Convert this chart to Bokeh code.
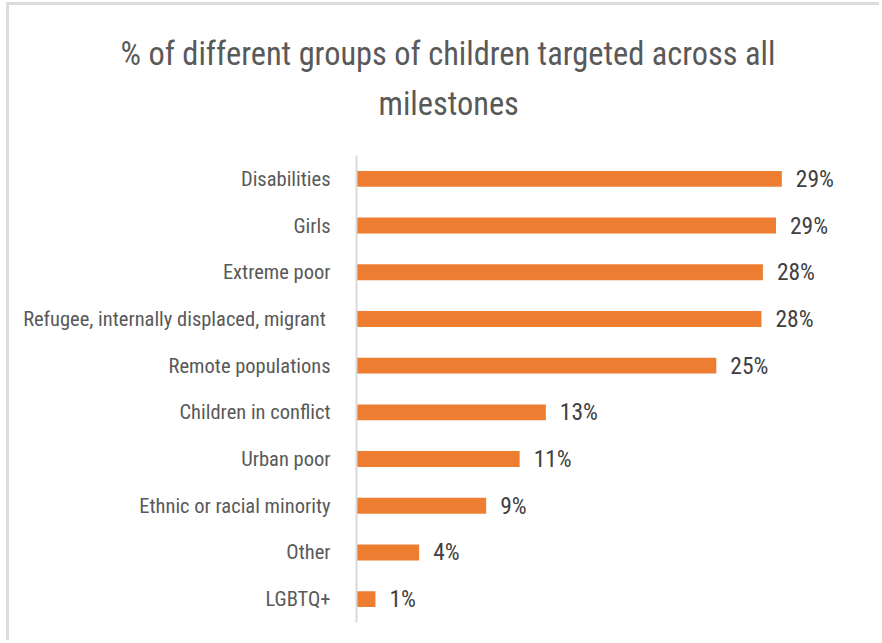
from bokeh.plotting import figure
from bokeh.models import FactorRange, Title, ColumnDataSource
from bokeh.core.properties import value
from bokeh.embed import file_html
from bokeh.resources import INLINE

# ---- data ----
categories = ["Disabilities", "Girls", "Extreme poor",
              "Refugee, internally displaced, migrant ", "Remote populations",
              "Children in conflict", "Urban poor", "Ethnic or racial minority",
              "Other", "LGBTQ+"]
values = [29.2, 28.8, 27.9, 27.8, 24.7, 13.0, 11.2, 8.9, 4.3, 1.3]
value_labels = ["29%", "29%", "28%", "28%", "25%", "13%", "11%", "9%", "4%", "1%"]
title_lines = ["% of different groups of children targeted across all", "milestones"]

FONT = "Roboto Condensed"
BAR = "#ED7D31"
GREY_TXT = "#595959"

src = ColumnDataSource(dict(cat=categories, val=values, lab=value_labels))

W, H = 873, 638
p = figure(width=W, height=H, output_backend="svg", toolbar_location=None,
           y_range=FactorRange(factors=list(reversed(categories))),
           x_range=(0, 34.6),
           min_border_left=347, min_border_top=150, min_border_bottom=21,
           min_border_right=22)
p.styles = {"margin-left": "6px", "margin-top": "2px",
            "border-left": "3px solid #dcdcdc", "border-top": "3px solid #dcdcdc"}

p.hbar(y="cat", right="val", left=0, height=0.34, source=src,
       fill_color=BAR, line_color=None)
p.text(x="val", y="cat", text="lab", source=src, x_offset=14,
       text_baseline="middle", text_align="left",
       text_font=value(FONT), text_font_size="23.5px", text_color="#404040")

p.xaxis.visible = False
p.xgrid.grid_line_color = None
p.ygrid.grid_line_color = None
p.outline_line_color = None
yax = p.yaxis[0]
yax.axis_line_color = "#d9d9d9"
yax.axis_line_width = 2
yax.major_tick_line_color = None
yax.minor_tick_line_color = None
yax.major_label_standoff = 20
yax.major_label_text_font = FONT
yax.major_label_text_font_size = "20.5px"
yax.major_label_text_color = GREY_TXT

# title: spacer closest to frame, then line 2, then line 1
p.add_layout(Title(text=" ", text_font_size="10px", standoff=14), "above")
p.add_layout(Title(text=title_lines[1], align="left", offset=22, vertical_align="middle",
                   text_font=FONT, text_font_size="32.4px", text_font_style="normal",
                   text_color=GREY_TXT, standoff=9), "above")
p.add_layout(Title(text=title_lines[0], align="left", offset=-236, vertical_align="middle",
                   text_font=FONT, text_font_size="32.4px", text_font_style="normal",
                   text_color=GREY_TXT, standoff=11), "above")

open("out.html", "w").write(file_html(p, INLINE))
